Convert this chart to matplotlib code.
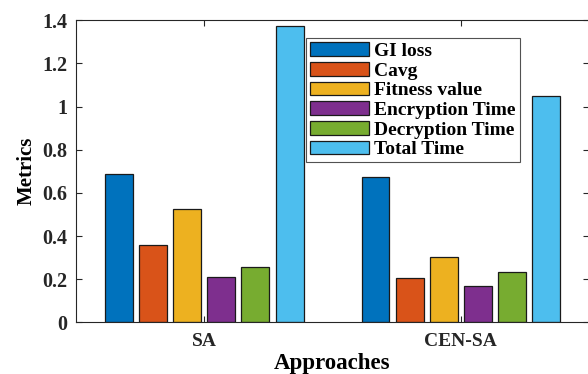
import numpy as np
import matplotlib.pyplot as plt

plt.rcParams['font.family'] = ['Liberation Serif', 'DejaVu Serif']
plt.rcParams['font.weight'] = 'bold'

approaches = ['SA', 'CEN-SA']
metric_names = ['GI loss', 'Cavg', 'Fitness value', 'Encryption Time',
                'Decryption Time', 'Total Time']
gi_loss = [0.688, 0.674]
cavg = [0.359, 0.207]
fitness = [0.524, 0.302]
enc_time = [0.209, 0.168]
dec_time = [0.258, 0.234]
total_time = [1.371, 1.048]

series = [gi_loss, cavg, fitness, enc_time, dec_time, total_time]
colors = ['#0072BD', '#D95319', '#EDB120', '#7E2F8E', '#77AC30', '#4DBEEE']

fig = plt.figure(figsize=(5.88, 3.74), dpi=100)
ax = fig.add_axes([0.129, 0.138, 0.873, 0.808])

x = np.arange(1, len(approaches) + 1)
step = 0.133
width = 0.109
for i, (vals, c, name) in enumerate(zip(series, colors, metric_names)):
    off = (i - (len(series) - 1) / 2) * step
    ax.bar(x + off, vals, width, color=c, edgecolor='#1a1a1a', linewidth=0.9,
           label=name)

ax.set_xlim(0.5, 2.5)
ax.set_ylim(0, 1.4)
ax.set_xticks(x)
ax.set_xticklabels(approaches)
ax.set_yticks([0, 0.2, 0.4, 0.6, 0.8, 1.0, 1.2, 1.4])
ax.set_yticklabels(['0', '0.2', '0.4', '0.6', '0.8', '1', '1.2', '1.4'])
ax.tick_params(direction='in', length=4, width=0.8, colors='#262626',
               top=True, right=True)
ax.tick_params(axis='y', labelsize=14.5, pad=6)
ax.tick_params(axis='x', labelsize=14, pad=8)
for lab in ax.get_xticklabels() + ax.get_yticklabels():
    lab.set_color('#262626')
    lab.set_fontweight('bold')
for s in ax.spines.values():
    s.set_color('#262626')
    s.set_linewidth(0.8)

ax.set_xlabel('Approaches', fontsize=16.5, fontweight='bold', labelpad=2)
ax.set_ylabel('Metrics', fontsize=15, fontweight='bold', labelpad=4)

leg = ax.legend(loc='upper left', bbox_to_anchor=(0.449, 0.94), fontsize=14,
                frameon=True, fancybox=False, edgecolor='#262626',
                handlelength=3.0, handleheight=0.72, labelspacing=0.1,
                handletextpad=0.3, borderpad=0.2, borderaxespad=0)
leg.get_frame().set_linewidth(0.8)

fig.savefig('out.png', dpi=100)
